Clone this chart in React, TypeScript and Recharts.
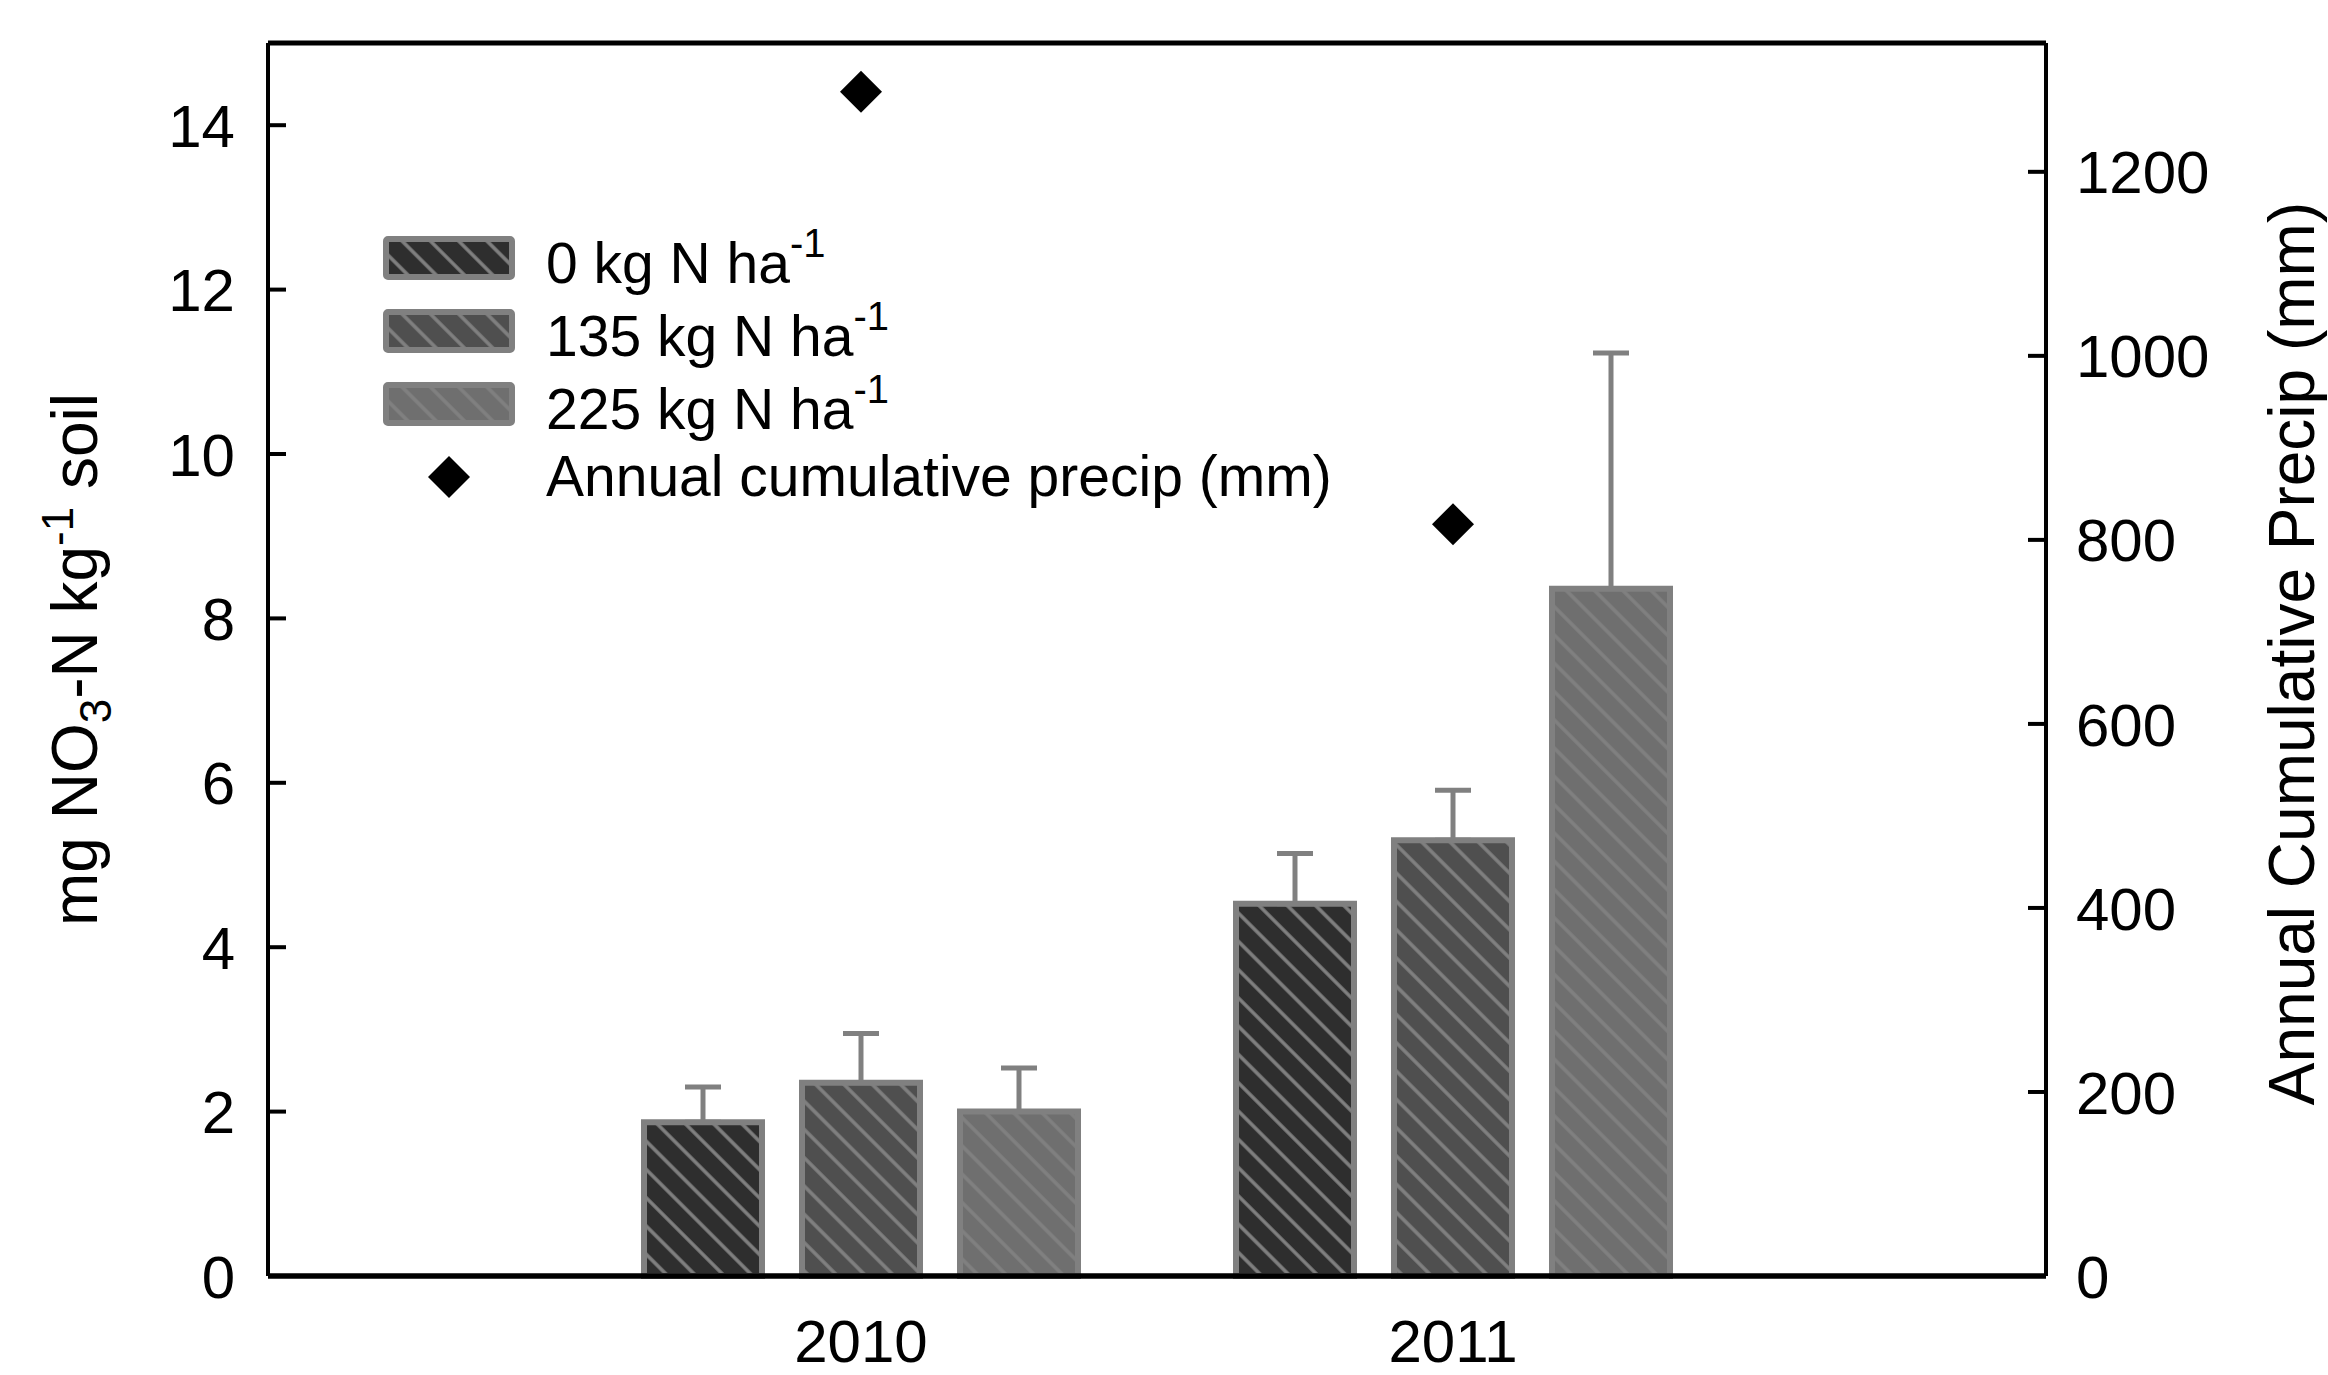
import {
  ComposedChart,
  Bar,
  Line,
  ErrorBar,
  XAxis,
  YAxis,
  Legend,
  ReferenceLine,
} from 'recharts';

const years = ['2010', '2011'];
const nitrate0 = [1.87, 4.53];
const nitrate0Err = [0.43, 0.61];
const nitrate135 = [2.35, 5.3];
const nitrate135Err = [0.6, 0.61];
const nitrate225 = [2.0, 8.36];
const nitrate225Err = [0.53, 2.87];
const precipMm = [1287, 817];

const leftTicks = [0, 2, 4, 6, 8, 10, 12, 14];
const rightTicks = [0, 200, 400, 600, 800, 1000, 1200];

const series = [
  { key: 'n0', rate: '0', fill: '#2e2e2e' },
  { key: 'n135', rate: '135', fill: '#4f4f4f' },
  { key: 'n225', rate: '225', fill: '#6f6f6f' },
];

const data = years.map((year, i) => ({
  year,
  n0: nitrate0[i],
  n0Err: [0, nitrate0Err[i]],
  n135: nitrate135[i],
  n135Err: [0, nitrate135Err[i]],
  n225: nitrate225[i],
  n225Err: [0, nitrate225Err[i]],
  precip: precipMm[i],
}));

const FONT = '"Liberation Sans", Arial, sans-serif';
const EDGE = '#808080';
const TICK_SIZE = 60;

// ticks point into the plot, labels sit outside
const LeftTick = ({ x, y, payload }: any) => (
  <g>
    <line x1={x} x2={x + 18} y1={y} y2={y} stroke="#000" strokeWidth={4} />
    <text x={x - 33} y={y} dy="0.36em" textAnchor="end" fontFamily={FONT} fontSize={TICK_SIZE} fill="#000">
      {payload.value}
    </text>
  </g>
);

const RightTick = ({ x, y, payload }: any) => (
  <g>
    <line x1={x} x2={x - 18} y1={y} y2={y} stroke="#000" strokeWidth={4} />
    <text x={x + 30} y={y} dy="0.36em" textAnchor="start" fontFamily={FONT} fontSize={TICK_SIZE} fill="#000">
      {payload.value}
    </text>
  </g>
);

const YearTick = ({ x, y, payload }: any) => (
  <text x={x} y={y + 86} textAnchor="middle" fontFamily={FONT} fontSize={TICK_SIZE} fill="#000">
    {payload.value}
  </text>
);

const LeftTitle = ({ viewBox }: any) => (
  <text
    transform={`translate(${viewBox.x - 71}, ${viewBox.y + viewBox.height / 2}) rotate(-90)`}
    textAnchor="middle"
    fontFamily={FONT}
    fontSize={64}
    fill="#000"
  >
    mg NO
    <tspan dy={14} fontSize={44}>3</tspan>
    <tspan dy={-14}>-N kg</tspan>
    <tspan dy={-24} fontSize={44}>-1</tspan>
    <tspan dy={24}> soil</tspan>
  </text>
);

const RightTitle = ({ viewBox }: any) => (
  <text
    transform={`translate(${viewBox.x + 268}, ${viewBox.y + viewBox.height / 2 - 6}) rotate(-90)`}
    textAnchor="middle"
    fontFamily={FONT}
    fontSize={64}
    fill="#000"
  >
    Annual Cumulative Precip (mm)
  </text>
);

const Diamond = ({ cx, cy }: any) => {
  if (cx == null || cy == null) return null;
  const r = 21;
  return <polygon points={`${cx},${cy - r} ${cx + r},${cy} ${cx},${cy + r} ${cx - r},${cy}`} fill="#000" />;
};

function LegendBox() {
  const row = { display: 'flex', alignItems: 'center', height: 73 } as const;
  const label = { marginLeft: 31, whiteSpace: 'nowrap' } as const;
  return (
    <div style={{ fontFamily: FONT, fontSize: 57, color: '#000', lineHeight: 1 }}>
      {series.map((s, i) => (
        <div key={s.key} style={row}>
          <svg width={132} height={44}>
            <rect x={3} y={3} width={126} height={38} rx={2} fill={`url(#hatch${i})`} stroke={EDGE} strokeWidth={6} />
          </svg>
          <span style={label}>
            {s.rate} kg N ha<sup style={{ fontSize: 40, verticalAlign: 26 }}>-1</sup>
          </span>
        </div>
      ))}
      <div style={row}>
        <svg width={132} height={44}>
          <polygon points="66,1 87,22 66,43 45,22" fill="#000" />
        </svg>
        <span style={label}>Annual cumulative precip (mm)</span>
      </div>
    </div>
  );
}

export default function App() {
  return (
    <div>
      <style>{'body{margin:0;background:#fff}'}</style>
      <ComposedChart
        width={2328}
        height={1375}
        data={data}
        margin={{ top: 43, right: 182, bottom: 0, left: 168 }}
        barSize={118}
        barGap={40}
      >
        <defs>
          {series.map((s, i) => (
            <pattern
              key={s.key}
              id={`hatch${i}`}
              patternUnits="userSpaceOnUse"
              width={20}
              height={20}
              patternTransform="rotate(45)"
            >
              <rect width={20} height={20} fill={s.fill} />
              <line x1={0} x2={20} y1={10} y2={10} stroke={EDGE} strokeWidth={3.5} />
            </pattern>
          ))}
        </defs>
        <XAxis
          dataKey="year"
          height={99}
          padding={{ left: 297, right: 297 }}
          axisLine={{ stroke: '#000', strokeWidth: 5 }}
          tickLine={false}
          tickSize={0}
          tickMargin={0}
          tick={<YearTick />}
        />
        <YAxis
          yAxisId="left"
          width={100}
          domain={[0, 15]}
          ticks={leftTicks}
          axisLine={{ stroke: '#000', strokeWidth: 4 }}
          tickLine={false}
          tickSize={0}
          tickMargin={0}
          tick={<LeftTick />}
          label={<LeftTitle />}
        />
        <YAxis
          yAxisId="right"
          orientation="right"
          width={100}
          domain={[0, 1340]}
          ticks={rightTicks}
          axisLine={{ stroke: '#000', strokeWidth: 4 }}
          tickLine={false}
          tickSize={0}
          tickMargin={0}
          tick={<RightTick />}
          label={<RightTitle />}
        />
        <Legend
          layout="vertical"
          align="center"
          verticalAlign="middle"
          wrapperStyle={{ left: 383, top: 221, width: 'auto' }}
          content={() => <LegendBox />}
        />
        {series.map((s, i) => (
          <Bar
            key={s.key}
            yAxisId="left"
            dataKey={s.key}
            fill={`url(#hatch${i})`}
            stroke={EDGE}
            strokeWidth={6}
            isAnimationActive={false}
          >
            <ErrorBar dataKey={`${s.key}Err`} direction="y" width={18} stroke={EDGE} strokeWidth={5} />
          </Bar>
        ))}
        <Line
          yAxisId="right"
          dataKey="precip"
          stroke="none"
          dot={<Diamond />}
          activeDot={false}
          isAnimationActive={false}
        />
        <ReferenceLine yAxisId="left" y={15} stroke="#000" strokeWidth={5} />
        <ReferenceLine yAxisId="left" y={0} stroke="#000" strokeWidth={5} />
      </ComposedChart>
    </div>
  );
}
